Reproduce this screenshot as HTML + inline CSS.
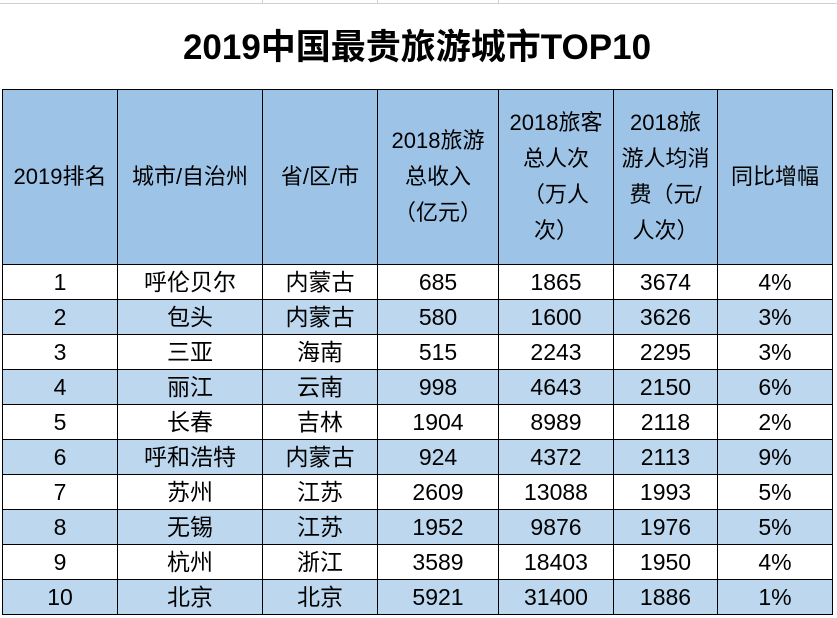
<!DOCTYPE html>
<html><head><meta charset="utf-8"><style>
body{margin:0;width:837px;height:618px;background:#fff;overflow:hidden;font-family:"Liberation Sans","Noto Sans CJK SC",sans-serif;position:relative}
.t{position:absolute;left:2px;top:0;width:830px;height:89px;display:flex;align-items:center;justify-content:center;font-weight:bold;font-size:35px;color:#000}
.gl{position:absolute;top:0;height:3px;border-left:1px solid #d0d0d0}
table{position:absolute;left:2px;top:89px;border-collapse:collapse;table-layout:fixed}
td{border:1.5px solid #000;text-align:center;padding:0;font-size:23px;color:#000;height:34px;line-height:24px}
tr.h td{background:#9dc3e6;height:174px;font-size:22px;line-height:36px}
tr.a td{background:#bdd7ee}
</style></head><body>
<div class="gl" style="left:262px"></div><div class="gl" style="left:377px"></div><div class="gl" style="left:498px"></div><div class="gl" style="left:0;width:837px;height:0;top:3px;border-left:none;border-top:1px solid #d0d0d0"></div>
<div class="t">2019中国最贵旅游城市TOP10</div>
<table>
<colgroup><col style="width:115px"><col style="width:145px"><col style="width:115px"><col style="width:121px"><col style="width:115px"><col style="width:104px"><col style="width:115px"></colgroup>
<tr class="h"><td>2019排名</td><td>城市/自治州</td><td>省/区/市</td><td>2018旅游<br>总收入<br>（亿元）</td><td>2018旅客<br>总人次<br>（万人<br>次）</td><td>2018旅<br>游人均消<br>费（元/<br>人次）</td><td>同比增幅</td></tr>
<tr><td>1</td><td>呼伦贝尔</td><td>内蒙古</td><td>685</td><td>1865</td><td>3674</td><td>4%</td></tr>
<tr class="a"><td>2</td><td>包头</td><td>内蒙古</td><td>580</td><td>1600</td><td>3626</td><td>3%</td></tr>
<tr><td>3</td><td>三亚</td><td>海南</td><td>515</td><td>2243</td><td>2295</td><td>3%</td></tr>
<tr class="a"><td>4</td><td>丽江</td><td>云南</td><td>998</td><td>4643</td><td>2150</td><td>6%</td></tr>
<tr><td>5</td><td>长春</td><td>吉林</td><td>1904</td><td>8989</td><td>2118</td><td>2%</td></tr>
<tr class="a"><td>6</td><td>呼和浩特</td><td>内蒙古</td><td>924</td><td>4372</td><td>2113</td><td>9%</td></tr>
<tr><td>7</td><td>苏州</td><td>江苏</td><td>2609</td><td>13088</td><td>1993</td><td>5%</td></tr>
<tr class="a"><td>8</td><td>无锡</td><td>江苏</td><td>1952</td><td>9876</td><td>1976</td><td>5%</td></tr>
<tr><td>9</td><td>杭州</td><td>浙江</td><td>3589</td><td>18403</td><td>1950</td><td>4%</td></tr>
<tr class="a"><td>10</td><td>北京</td><td>北京</td><td>5921</td><td>31400</td><td>1886</td><td>1%</td></tr>
</table>
</body></html>
